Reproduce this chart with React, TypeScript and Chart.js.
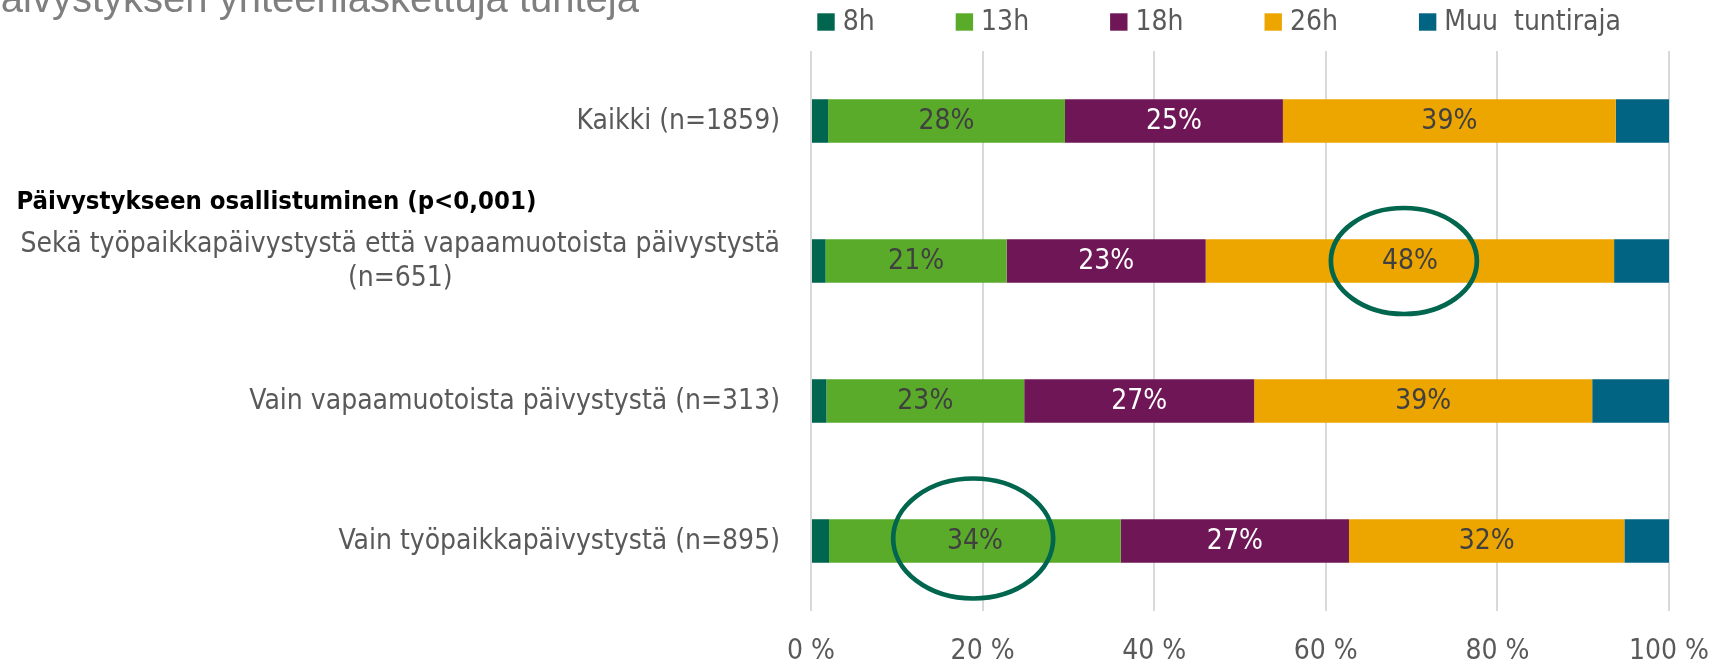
import React, { useEffect, useRef } from 'react';
import { Chart, registerables } from 'chart.js';

Chart.register(...registerables);

// ---------- data ----------
const TITLE = 'Päivystyksen yhteenlaskettuja tunteja';
const GROUP_HEADER = 'Päivystykseen osallistuminen (p<0,001)';

const categories: (string | string[])[] = [
  'Kaikki (n=1859)',
  ['Sekä työpaikkapäivystystä että vapaamuotoista päivystystä', '(n=651)'],
  'Vain vapaamuotoista päivystystä (n=313)',
  'Vain työpaikkapäivystystä (n=895)',
];

const seriesNames = ['8h', '13h', '18h', '26h', 'Muu  tuntiraja'];
const values8h = [2.0, 1.7, 1.8, 2.1];
const values13h = [27.6, 21.1, 23.05, 34.0];
const values18h = [25.4, 23.2, 26.8, 26.6];
const values26h = [38.8, 47.6, 39.4, 32.1];
const valuesMuu = [6.2, 6.4, 8.95, 5.2];

const xTickValues = [0, 20, 40, 60, 80, 100];

// highlighted (circled) values: category index and the value at the ellipse centre
const highlightCategory = [1, 3];
const highlightValue = [69.1, 18.9];

// ---------- styles ----------
const NARROW = '"DejaVu Sans Condensed", "Liberation Sans Narrow", sans-serif';
const FONT_SIZE = 28;
const LABEL_FONT = `${FONT_SIZE}px ${NARROW}`;
const TEXT_GREY = '#595959';
const COLORS = ['#00664f', '#5aab2a', '#6e1656', '#eda500', '#006482'];
const LABEL_COLORS = [null, '#404040', '#ffffff', '#404040', null];

const overlayPlugin = {
  id: 'overlay',
  afterDatasetsDraw(chart: any) {
    const ctx = chart.ctx as CanvasRenderingContext2D;
    // data labels
    chart.data.datasets.forEach((ds: any, di: number) => {
      if (!ds.labelColor) return;
      const meta = chart.getDatasetMeta(di);
      meta.data.forEach((el: any, i: number) => {
        const v = ds.data[i] as number;
        const p = el.getProps(['x', 'y', 'base'], true);
        ctx.save();
        ctx.font = LABEL_FONT;
        ctx.fillStyle = ds.labelColor;
        ctx.textAlign = 'center';
        ctx.textBaseline = 'middle';
        ctx.fillText(Math.round(v) + '%', (p.x + p.base) / 2, p.y + 1);
        ctx.restore();
      });
    });
    // highlight ellipses
    const xs = chart.scales.x;
    const ys = chart.scales.y;
    const radii = [
      [73, 53, 0],
      [80, 60, -2.5],
    ];
    highlightCategory.forEach((c, i) => {
      const cx = xs.getPixelForValue(highlightValue[i]);
      const cy = ys.getPixelForValue(c) + radii[i][2];
      ctx.save();
      ctx.beginPath();
      ctx.ellipse(cx, cy, radii[i][0], radii[i][1], 0, 0, Math.PI * 2);
      ctx.lineWidth = 4.7;
      ctx.strokeStyle = '#00664e';
      ctx.stroke();
      ctx.restore();
    });
  },
  afterDraw(chart: any) {
    const ctx = chart.ctx as CanvasRenderingContext2D;
    const area = chart.chartArea;
    const ys = chart.scales.y;

    // cropped title
    ctx.save();
    ctx.font = '40px "Liberation Sans", Arial, sans-serif';
    ctx.fillStyle = '#7f7f7f';
    ctx.textAlign = 'right';
    ctx.textBaseline = 'alphabetic';
    ctx.fillText(TITLE, 639, 12);
    ctx.restore();

    // legend
    ctx.save();
    ctx.font = LABEL_FONT;
    ctx.textBaseline = 'middle';
    ctx.textAlign = 'left';
    let lx = area.left + 6.3;
    const ly = 22;
    const box = 17.4;
    chart.data.datasets.forEach((ds: any) => {
      ctx.fillStyle = ds.backgroundColor;
      ctx.fillRect(lx, ly - box / 2, box, box);
      ctx.fillStyle = TEXT_GREY;
      const tx = lx + box + 8;
      ctx.fillText(ds.label, tx, ly + 1);
      lx = tx + ctx.measureText(ds.label).width + 81;
    });
    ctx.restore();

    // category labels
    ctx.save();
    ctx.font = LABEL_FONT;
    ctx.fillStyle = TEXT_GREY;
    ctx.textBaseline = 'middle';
    const xRight = area.left - 31;
    const lineH = 34;
    categories.forEach((lab, i) => {
      const y = ys.getPixelForValue(i) + 1;
      const lines = Array.isArray(lab) ? lab : [lab];
      if (lines.length === 1) {
        ctx.textAlign = 'right';
        ctx.fillText(lines[0], xRight, y);
      } else {
        const w = Math.max(...lines.map((l) => ctx.measureText(l).width));
        ctx.textAlign = 'center';
        lines.forEach((l, k) => {
          ctx.fillText(l, xRight - w / 2, y + (k - (lines.length - 1) / 2) * lineH);
        });
      }
    });
    ctx.restore();

    // group header (bold, left aligned)
    ctx.save();
    ctx.font = `bold 25.5px ${NARROW}`;
    ctx.fillStyle = '#000000';
    ctx.textAlign = 'left';
    ctx.textBaseline = 'middle';
    const y0 = ys.getPixelForValue(0);
    const y1 = ys.getPixelForValue(1);
    ctx.fillText(GROUP_HEADER, 16.5, y0 + 0.58 * (y1 - y0));
    ctx.restore();
  },
};

export default function App() {
  const ref = useRef<HTMLCanvasElement | null>(null);

  useEffect(() => {
    if (!ref.current) return;
    const seriesValues = [values8h, values13h, values18h, values26h, valuesMuu];
    const chart = new Chart(ref.current, {
      type: 'bar',
      data: {
        labels: categories.map((c) => (Array.isArray(c) ? c.join(' ') : c)),
        datasets: seriesNames.map((name, i) => ({
          label: name,
          data: seriesValues[i],
          backgroundColor: COLORS[i],
          borderWidth: 0,
          categoryPercentage: 1,
          barPercentage: 0.311,
          labelColor: LABEL_COLORS[i],
        })) as any,
      },
      options: {
        indexAxis: 'y',
        responsive: false,
        animation: false,
        events: [],
        layout: { padding: { top: 51, right: 58, left: 0, bottom: 0 } },
        plugins: {
          legend: { display: false },
          title: { display: false },
          tooltip: { enabled: false },
        },
        scales: {
          x: {
            stacked: true,
            min: 0,
            max: 100,
            afterBuildTicks: (s: any) => {
              s.ticks = xTickValues.map((v) => ({ value: v }));
            },
            afterFit: (s: any) => {
              s.height = 56;
              s.paddingLeft = 0;
              s.paddingRight = 0;
            },
            ticks: {
              callback: (v: any) => v + ' %',
              color: TEXT_GREY,
              font: { family: NARROW, size: FONT_SIZE },
              padding: 24,
              maxRotation: 0,
            },
            grid: { color: '#d9d9d9', lineWidth: 2, drawTicks: false },
            border: { display: false },
          },
          y: {
            stacked: true,
            afterFit: (s: any) => {
              s.width = 811;
            },
            ticks: { display: false },
            grid: { display: false },
            border: { display: false },
          },
        },
      },
      plugins: [overlayPlugin],
    });
    return () => chart.destroy();
  }, []);

  return (
    <div style={{ position: 'absolute', left: 0, top: 0, width: 1727, height: 667, background: '#ffffff' }}>
      <canvas ref={ref} width={1727} height={667} />
    </div>
  );
}
